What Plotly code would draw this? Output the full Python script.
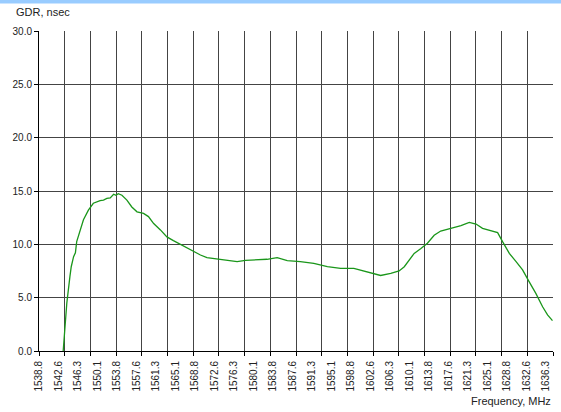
import plotly.graph_objects as go

freq = [1543.45, 1544.15, 1544.75, 1545.0, 1545.45, 1545.8, 1546.05, 1546.7, 1547.35, 1548.3,
        1549.25, 1550.55, 1551.2, 1551.85, 1552.5, 1553.15, 1553.6, 1554.05, 1554.75, 1555.7,
        1556.65, 1557.65, 1558.9, 1559.85, 1560.85, 1562.15, 1563.4, 1564.65, 1566.6, 1568.55,
        1569.85, 1571.1, 1573.65, 1575.2, 1576.9, 1578.5, 1580.05, 1582.65, 1584.6, 1586.55,
        1589.05, 1591.65, 1594.25, 1596.8, 1599.35, 1601.3, 1603.25, 1604.5, 1606.45, 1608.05,
        1609.05, 1609.95, 1610.95, 1612.25, 1613.5, 1614.8, 1616.05, 1618.0, 1619.95, 1621.55,
        1622.85, 1624.1, 1625.7, 1627.0, 1627.95, 1629.25, 1630.55, 1631.8, 1633.05, 1634.35,
        1635.65, 1636.6, 1637.55]
gdr = [0.0, 4.5, 7.0, 7.9, 8.85, 9.2, 10.25, 11.35, 12.3, 13.2,
       13.85, 14.1, 14.15, 14.3, 14.35, 14.7, 14.6, 14.75, 14.6, 14.15,
       13.5, 13.05, 12.9, 12.6, 11.95, 11.35, 10.7, 10.35, 9.85, 9.3,
       9.0, 8.75, 8.58, 8.5, 8.38, 8.5, 8.52, 8.6, 8.75, 8.48,
       8.38, 8.22, 7.9, 7.75, 7.75, 7.5, 7.2, 7.08, 7.28, 7.5,
       7.9, 8.5, 9.15, 9.6, 10.1, 10.85, 11.25, 11.5, 11.75, 12.05,
       11.9, 11.5, 11.25, 11.1, 10.25, 9.15, 8.38, 7.6, 6.5, 5.4,
       4.15, 3.38, 2.85]

tick_labels = ["1538.8", "1542.6", "1546.3", "1550.1", "1553.8", "1557.6", "1561.3", "1565.1",
               "1568.8", "1572.6", "1576.3", "1580.1", "1583.8", "1587.6", "1591.3", "1595.1",
               "1598.8", "1602.6", "1606.3", "1610.1", "1613.8", "1617.6", "1621.3", "1625.1",
               "1628.8", "1632.6", "1636.3"]
tick_start = 1538.8
tick_step = 3.75
tick_vals = [tick_start + i * tick_step for i in range(len(tick_labels))]

x_min, x_max = 1538.8, 1637.65
n_grid = 20

fig = go.Figure()
fig.add_trace(go.Scatter(x=freq, y=gdr, mode="lines",
                         line=dict(color="#1a961a", width=1.3), showlegend=False,
                         hoverinfo="skip"))

font = dict(family="Liberation Sans, Arial, sans-serif", size=10, color="#222222")

fig.update_layout(
    width=561, height=412,
    margin=dict(l=39, r=8, t=31, b=61),
    paper_bgcolor="white", plot_bgcolor="white",
    font=font,
    xaxis=dict(
        range=[x_min, x_max], automargin=False,
        tickmode="array", tickvals=tick_vals, ticktext=tick_labels,
        tickangle=-90, ticks="", showgrid=False, zeroline=False,
        ticklabelstandoff=5,
        showline=True, linecolor="#000000", linewidth=1,
        tickfont=font,
        minor=dict(tickmode="linear", tick0=x_min, dtick=(x_max - x_min) / n_grid,
                   showgrid=True, gridcolor="#444444", gridwidth=1,
                   ticks="outside", ticklen=4, tickcolor="#000000"),
    ),
    yaxis=dict(
        range=[0, 30], automargin=False,
        tickmode="linear", tick0=0, dtick=5, tickformat=".1f",
        ticks="outside", ticklen=4, tickcolor="#000000",
        showgrid=True, gridcolor="#444444", gridwidth=1, zeroline=False,
        showline=True, linecolor="#000000", linewidth=1,
        tickfont=font,
    ),
    annotations=[
        dict(text="GDR, nsec", xref="paper", yref="paper", x=-0.049, y=1.06,
             xanchor="left", yanchor="middle", showarrow=False,
             font=dict(family="Liberation Sans, Arial, sans-serif", size=11, color="#222222")),
        dict(text="Frequency, MHz", xref="paper", yref="paper", x=1.0, y=-0.156,
             xanchor="right", yanchor="middle", showarrow=False,
             font=dict(family="Liberation Sans, Arial, sans-serif", size=11, color="#222222")),
    ],
    shapes=[
        dict(type="rect", xref="paper", yref="paper", x0=-0.08, x1=1.02,
             y0=(351 - 3.5) / 320, y1=351 / 320 + 0.01, fillcolor="#99ccff",
             line=dict(width=0), layer="above"),
    ],
)

fig.write_html("out.html", config={"displayModeBar": False},
               post_script="document.body.style.margin='0';document.body.style.overflow='hidden';")
